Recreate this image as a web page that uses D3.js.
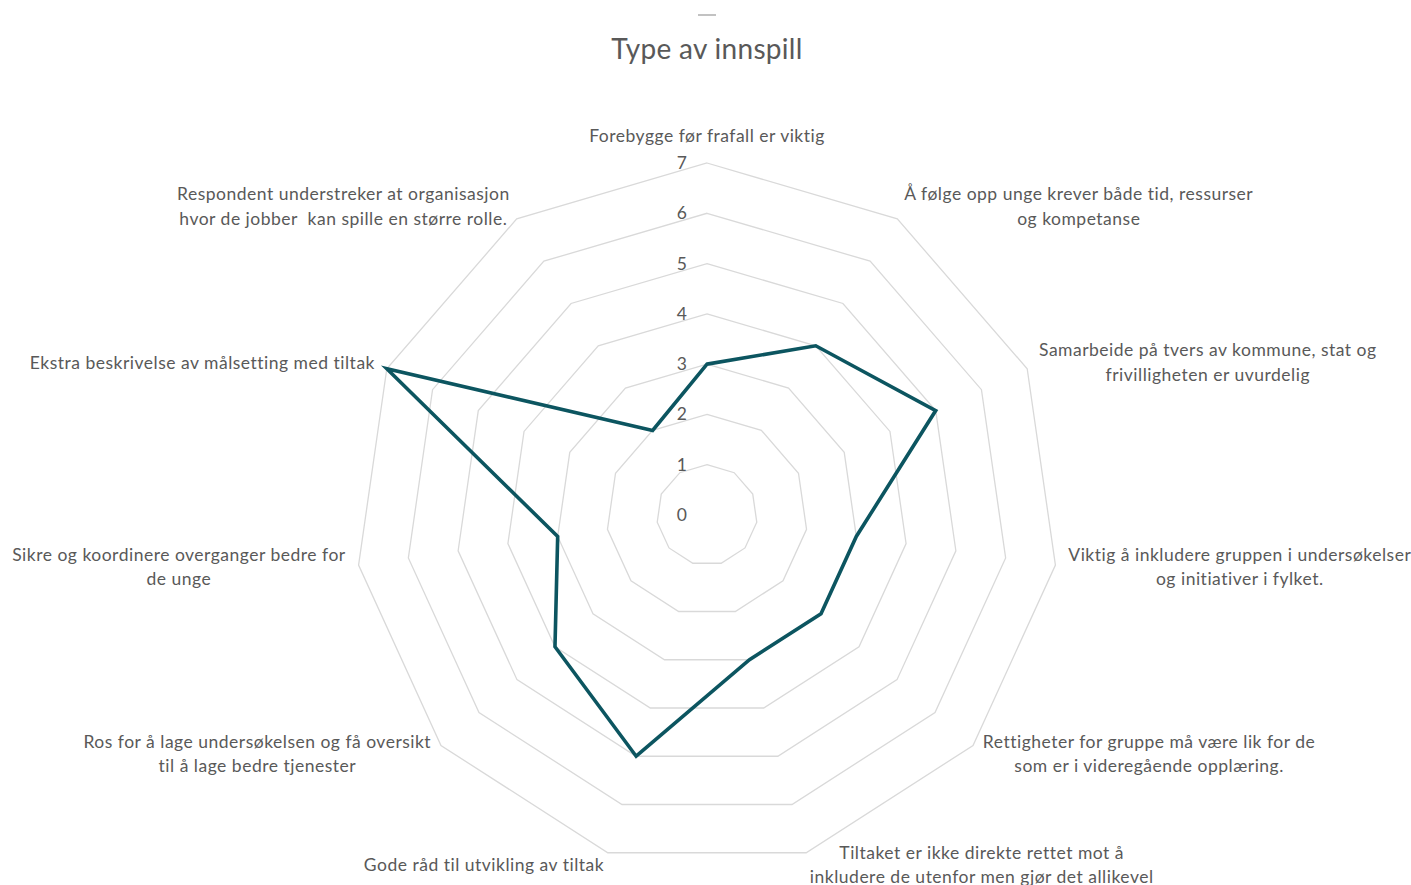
<!DOCTYPE html>
<html>
<head>
<meta charset="utf-8">
<script src="https://cdn.jsdelivr.net/npm/d3@7"></script>
<style>
  body{margin:0;background:#fff;}
  text{font-family:Lato,"Open Sans",sans-serif;fill:#595959;white-space:pre;}
</style>
</head>
<body>
<script>
// kategorier, i rekkefølge med klokka fra toppen
const categories=[
  "Forebygge før frafall er viktig",
  "Å følge opp unge krever både tid, ressurser\nog kompetanse",
  "Samarbeide på tvers av kommune, stat og\nfrivilligheten er uvurdelig",
  "Viktig å inkludere gruppen i undersøkelser\nog initiativer i fylket.",
  "Rettigheter for gruppe må være lik for de\nsom er i videregående opplæring.",
  "Tiltaket er ikke direkte rettet mot å\ninkludere de utenfor men gjør det allikevel",
  "Gode råd til utvikling av tiltak",
  "Ros for å lage undersøkelsen og få oversikt\ntil å lage bedre tjenester",
  "Sikre og koordinere overganger bedre for\nde unge",
  "Ekstra beskrivelse av målsetting med tiltak",
  "Respondent understreker at organisasjon\nhvor de jobber  kan spille en større rolle."
];
const values=[3,4,5,3,3,3,5,4,3,7,2];
const ticks=[0,1,2,3,4,5,6,7];
const title="Type av innspill";

let W=1411,H=885;
let cx=707,cy=515,R=352;

let svg=d3.select("body").append("svg").attr("width",W).attr("height",H);

let r=d3.scaleLinear().domain([0,7]).range([0,R]);
let ang=d3.scaleLinear().domain([0,categories.length]).range([0,2*Math.PI]);
let pt=(i,v)=>[cx+r(v)*Math.sin(ang(i)),cy-r(v)*Math.cos(ang(i))];

// liten strek øverst
svg.append("line").attr("x1",698).attr("x2",716).attr("y1",15).attr("y2",15)
  .attr("stroke","#9a9a9a").attr("stroke-width",1.2);

svg.append("text").attr("x",cx).attr("y",59).attr("text-anchor","middle")
  .style("font-size","28px").style("letter-spacing","0.3px").text(title);

// ringer
let grid=svg.append("g");
ticks.filter(t=>t>0).forEach(t=>{
  let pts=categories.map((c,i)=>pt(i,t));
  grid.append("polygon").attr("points",pts.map(p=>p.join(",")).join(" "))
    .attr("fill","none").attr("stroke","#d9d9d9").attr("stroke-width",1.3);
});

// akseverdier
svg.append("g").selectAll("text").data(ticks).enter().append("text")
  .attr("x",cx-20).attr("y",d=>cy-r(d)+6)
  .attr("text-anchor","end").style("font-size","17.5px").text(d=>d);

// serie
let line=d3.line().curve(d3.curveLinearClosed);
svg.append("path").attr("d",line(values.map((v,i)=>pt(i,v))))
  .attr("fill","none").attr("stroke","#0c5560").attr("stroke-width",3.6)
  .attr("stroke-linejoin","miter");

// kategorietiketter
let lh=24.5;
categories.forEach((c,i)=>{
  let a=ang(i),s=Math.sin(a),co=Math.cos(a);
  let v=pt(i,7);
  let px=v[0]+13*s,py=v[1]-(co>0?15:13)*co;
  let lines=c.split("\n");
  let t=svg.append("text").style("font-size","17.5px").style("letter-spacing","0.5px")
    .attr("text-anchor","middle");
  lines.forEach((l,k)=>t.append("tspan").attr("x",0).attr("dy",k?lh:0).text(l));
  let w=d3.max(t.selectAll("tspan").nodes(),n=>n.getComputedTextLength());
  let h=lines.length*lh;
  let bx,by;
  if(Math.abs(s)<0.05){bx=px;by=py-h/2;}
  else{bx=s>0?px+w/2:px-w/2;by=py;}
  let top=by-h/2;
  t.attr("transform",`translate(${bx},${top+lh/2+6})`);
});
</script>
</body>
</html>
